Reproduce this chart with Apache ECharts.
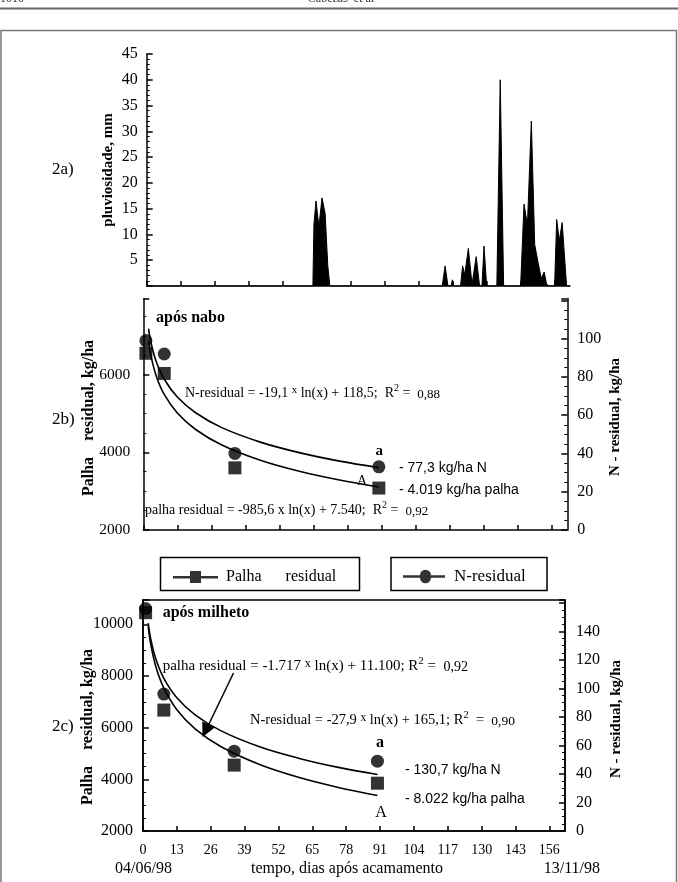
<!DOCTYPE html>
<html><head><meta charset="utf-8">
<script src="https://cdn.jsdelivr.net/npm/echarts@6/dist/echarts.min.js"></script>
<style>html,body{margin:0;padding:0;background:#fff}#c{width:678px;height:882px}</style>
</head><body><div id="c"></div><script>
// ---------- data ----------
const dayTicks = [0, 13, 26, 39, 52, 65, 78, 91, 104, 117, 130, 143, 156];
const rainTicks = [5, 10, 15, 20, 25, 30, 35, 40, 45];
const naboLeftTicks = [2000, 4000, 6000];
const naboRightTicks = [0, 20, 40, 60, 80, 100];
const milhetoLeftTicks = [2000, 4000, 6000, 8000, 10000];
const milhetoRightTicks = [0, 20, 40, 60, 80, 100, 120, 140];
// daily rainfall (day after lodging, mm)
const rainData = [
  [0,0],
  [63.6,0],[64.0,12],[64.8,16.5],[65.9,11.5],[67.1,17.1],[68.3,14],[69.3,4],[70.1,0],
  [113.1,0],[114.2,3.9],[115.3,0],
  [116.5,0],[117,1.2],[117.5,0],
  [120.1,0],[120.9,3.9],[121.7,2.2],[123.1,7.3],[124.5,0.3],[126.1,5.7],[127.4,0],
  [128.3,0],[129.1,7.75],[130.1,0],
  [134.0,0],[135.3,40],[136.6,0],
  [143.1,0],[144.4,15.9],[145.7,11.8],[147.2,32],[148.5,8],[149.8,4.5],[151,1.5],[152.1,2.7],[153,0.5],[153.7,0],
  [156.1,0],[156.9,12.9],[157.9,8.8],[159.0,12.3],[160.7,0],[162,0]
];
// 2b) após nabo
const nabo_days = [1, 8, 35, 90];
const nabo_palha = [6550, 6030, 3600, 3080];
const nabo_N = [99, 92, 40, 33];
const fit_days = [2, 3, 5, 8, 13, 20, 30, 45, 60, 75, 90];
const nabo_palha_fit = [6857, 6457, 5954, 5491, 5012, 4587, 4188, 3788, 3505, 3285, 3105];
const nabo_N_fit = [105.3, 97.5, 87.8, 78.8, 69.5, 61.3, 53.5, 45.8, 40.3, 36.0, 32.6];
// 2c) após milheto
const milheto_days = [1, 8, 35, 90];
const milheto_palha = [10450, 6680, 4550, 3850];
const milheto_N = [156, 96, 56, 49];
const milheto_palha_fit = [9910, 9214, 8337, 7530, 6696, 5956, 5260, 4564, 4070, 3687, 3374];
const milheto_N_fit = [145.8, 134.4, 120.2, 107.1, 93.5, 81.5, 70.2, 58.9, 50.9, 44.6, 39.6];

// ---------- helpers ----------
const SERIF = "'Liberation Serif', 'Times New Roman', serif";
const SANS = "'Liberation Sans', Arial, sans-serif";
const pair = (xs, ys) => xs.map((x, i) => [x, ys[i]]);
const plain = v => String(v);

function xAxis(g, labels) {
  return {
    type: 'value', gridIndex: g, min: 0, max: 162, interval: 13,
    axisLine: {show: true, onZero: false, lineStyle: {color: '#000', width: 1.5}},
    axisTick: {show: true, inside: true, length: 5, lineStyle: {color: '#000', width: 1.5}, customValues: dayTicks},
    axisLabel: {show: labels, customValues: dayTicks, formatter: plain, margin: 12, color: '#000', fontFamily: SERIF, fontSize: 14},
    splitLine: {show: false}
  };
}
function yAxis(g, pos, min, max, interval, minorSplit, margin, labelValues, fs) {
  return {
    type: 'value', gridIndex: g, position: pos, min: min, max: max, interval: interval,
    axisLine: {show: true, onZero: false, lineStyle: {color: '#000', width: 1.5}},
    axisTick: {show: true, inside: true, length: 6, lineStyle: {color: '#000', width: 1.5}},
    minorTick: {show: true, splitNumber: minorSplit, length: 3, lineStyle: {color: '#000', width: 1}},
    axisLabel: {show: true, customValues: labelValues, formatter: plain, margin: margin, color: '#000', fontFamily: SERIF, fontSize: fs || 16},
    splitLine: {show: false}, minorSplitLine: {show: false}
  };
}
function fitLine(xi, yi, data) {
  return {type: 'line', xAxisIndex: xi, yAxisIndex: yi, data: data, smooth: 0.35, symbol: 'none',
    lineStyle: {color: '#000', width: 1.6}, silent: true, z: 3};
}
function pts(name, xi, yi, data, sym) {
  return {type: 'scatter', name: name, xAxisIndex: xi, yAxisIndex: yi, data: data, symbol: sym,
    symbolSize: 13, itemStyle: {color: '#000'}, z: 4};
}
function T(x, y, text, o) {
  o = o || {};
  return {type: 'text', x: x, y: y, rotation: o.rot || 0, z: 10,
    style: {text: text, fill: '#000', fontFamily: o.ff || SERIF, fontSize: o.fs || 14,
      fontWeight: o.fw || 'normal', align: o.align || 'left', verticalAlign: 'middle', rich: o.rich}};
}
function eqRich(fs) {
  return {
    m: {fontFamily: SERIF, fontSize: fs, lineHeight: 20},
    x: {fontFamily: SERIF, fontSize: fs - 3, lineHeight: 20, verticalAlign: 'top', padding: [2, 0, 0, 0]},
    s: {fontFamily: SERIF, fontSize: fs - 4, lineHeight: 20, verticalAlign: 'top'},
    v: {fontFamily: SERIF, fontSize: fs - 1, lineHeight: 20, padding: [3, 0, 0, 0]}
  };
}

// ---------- chart ----------
const chart = echarts.init(document.getElementById('c'), null, {renderer: 'canvas'});
const option = {
  animation: false,
  backgroundColor: '#fff',
  grid: [
    {left: 146.7, top: 54, width: 423.3, height: 232},
    {left: 143.3, top: 298.5, width: 424, height: 231.5},
    {left: 143, top: 600, width: 422, height: 231, show: true, borderColor: '#000', borderWidth: 1.5, backgroundColor: 'transparent'}
  ],
  xAxis: [xAxis(0, false), xAxis(1, false), xAxis(2, true)],
  yAxis: [
    yAxis(0, 'left', 0, 45, 5, 5, 9, rainTicks),
    yAxis(1, 'left', 2000, 7960, 2000, 4, 13, naboLeftTicks, 15.5),
    yAxis(1, 'right', 0, 121, 20, 4, 10, naboRightTicks),
    yAxis(2, 'left', 2000, 10940, 2000, 4, 10, milhetoLeftTicks),
    yAxis(2, 'right', 0, 162, 20, 4, 11, milhetoRightTicks)
  ],
  legend: [
    {left: 173, top: 569, padding: 0, selectedMode: false, data: ['Palha residual'],
      icon: 'path://M0,5H17V0H28V5H45V7.5H28V12H17V7.5H0Z', itemWidth: 45, itemHeight: 12, itemGap: 0,
      formatter: () => 'Palha      residual',
      textStyle: {fontFamily: SERIF, fontSize: 16, color: '#000', padding: [0, 0, 0, 3]}},
    {left: 403, top: 568, padding: 0, selectedMode: false, data: ['N-residual'],
      icon: 'path://M0,5.5H17A5.5,5.5 0 0 1 28,5.5H42V8H28A5.5,5.5 0 0 1 17,8H0Z', itemWidth: 42, itemHeight: 13.5, itemGap: 0,
      textStyle: {fontFamily: SERIF, fontSize: 17, color: '#000', padding: [0, 0, 0, 4]}}
  ],
  series: [
    {type: 'line', xAxisIndex: 0, yAxisIndex: 0, data: rainData, symbol: 'none', smooth: false,
      lineStyle: {color: '#000', width: 1}, areaStyle: {color: '#000', opacity: 1}, silent: true},
    fitLine(1, 1, pair(fit_days, nabo_palha_fit)),
    fitLine(1, 2, pair(fit_days, nabo_N_fit)),
    pts('Palha residual', 1, 1, pair(nabo_days, nabo_palha), 'rect'),
    pts('N-residual', 1, 2, pair(nabo_days, nabo_N), 'circle'),
    fitLine(2, 3, pair(fit_days, milheto_palha_fit)),
    fitLine(2, 4, pair(fit_days, milheto_N_fit)),
    pts('Palha residual', 2, 3, pair(milheto_days, milheto_palha), 'rect'),
    pts('N-residual', 2, 4, pair(milheto_days, milheto_N), 'circle')
  ],
  graphic: [
    // page header & frame
    {type: 'line', shape: {x1: 0, y1: 8.5, x2: 678, y2: 8.5}, style: {stroke: '#666', lineWidth: 2}},
    {type: 'text', x: 0, y: 5, style: {text: '1010', fontFamily: SERIF, fontSize: 12, fill: '#333', verticalAlign: 'bottom'}},
    {type: 'text', x: 341, y: 5, style: {text: 'Cabezas  et al', fontFamily: SERIF, fontSize: 12, fill: '#333', align: 'center', verticalAlign: 'bottom'}},
    {type: 'polyline', shape: {points: [[1, 890], [1, 30.5], [676.5, 30.5], [676.5, 890]]}, style: {stroke: '#777', lineWidth: 1.5, fill: null}},
    // legend boxes
    {type: 'rect', shape: {x: 160.5, y: 557.5, width: 199, height: 33}, style: {stroke: '#000', lineWidth: 1.5, fill: null}},
    {type: 'rect', shape: {x: 391, y: 557.5, width: 156, height: 33}, style: {stroke: '#000', lineWidth: 1.5, fill: null}},
    // panel labels
    T(52, 170, '2a)', {fs: 17}),
    T(52, 420, '2b)', {fs: 17}),
    T(52, 727, '2c)', {fs: 17}),
    // axis names
    T(108, 170, 'pluviosidade, mm', {rot: Math.PI / 2, align: 'center', fw: 'bold', fs: 15}),
    T(89, 418, 'Palha    residual, kg/ha', {rot: Math.PI / 2, align: 'center', fw: 'bold', fs: 16}),
    T(615, 417, 'N - residual, kg/ha', {rot: Math.PI / 2, align: 'center', fw: 'bold', fs: 15}),
    T(88, 727, 'Palha    residual, kg/ha', {rot: Math.PI / 2, align: 'center', fw: 'bold', fs: 16}),
    T(616, 719, 'N - residual, kg/ha', {rot: Math.PI / 2, align: 'center', fw: 'bold', fs: 15}),
    // 2b annotations
    T(156, 318, 'após nabo', {fw: 'bold', fs: 16}),
    T(185, 393, '{m|N-residual = -19,1 }{x|x}{m| ln(x) + 118,5;  R}{s|2}{m| =  }{v|0,88}', {rich: eqRich(14)}),
    T(145, 510, '{m|palha residual = -985,6 x ln(x) + 7.540;  R}{s|2}{m| =  }{v|0,92}', {rich: eqRich(14)}),
    T(379.3, 451, 'a', {fw: 'bold', fs: 15, align: 'center'}),
    T(362, 481, 'A', {fs: 14, align: 'center'}),
    T(399, 467.7, '- 77,3 kg/ha N', {ff: SANS, fs: 14}),
    T(399, 490, '- 4.019 kg/ha palha', {ff: SANS, fs: 14}),
    // 2c annotations
    T(162.7, 613, 'após milheto', {fw: 'bold', fs: 16}),
    T(162.7, 666, '{m|palha residual = -1.717 }{x|x}{m| ln(x) + 11.100; R}{s|2}{m| =  }{v|0,92}', {rich: eqRich(15)}),
    T(250, 720, '{m|N-residual = -27,9 }{x|x}{m| ln(x) + 165,1; R}{s|2}{m|  =  }{v|0,90}', {rich: eqRich(14.5)}),
    T(380, 743, 'a', {fw: 'bold', fs: 16, align: 'center'}),
    T(381, 812.7, 'A', {fs: 16, align: 'center'}),
    T(405, 770, '- 130,7 kg/ha N', {ff: SANS, fs: 14}),
    T(405, 799.3, '- 8.022 kg/ha palha', {ff: SANS, fs: 14}),
    // arrow in 2c
    {type: 'line', shape: {x1: 233.5, y1: 673, x2: 208, y2: 726}, style: {stroke: '#000', lineWidth: 1.5}, z: 10},
    {type: 'polygon', shape: {points: [[202.5, 737], [214.8, 727.5], [202.2, 721.4]]}, style: {fill: '#000'}, z: 10},
    // bottom texts
    T(115, 869, '04/06/98', {fs: 16}),
    T(347, 869, 'tempo, dias após acamamento', {fs: 16, align: 'center'}),
    T(600, 869, '13/11/98', {fs: 16, align: 'right'})
  ]
};
chart.setOption(option);
</script></body></html>
